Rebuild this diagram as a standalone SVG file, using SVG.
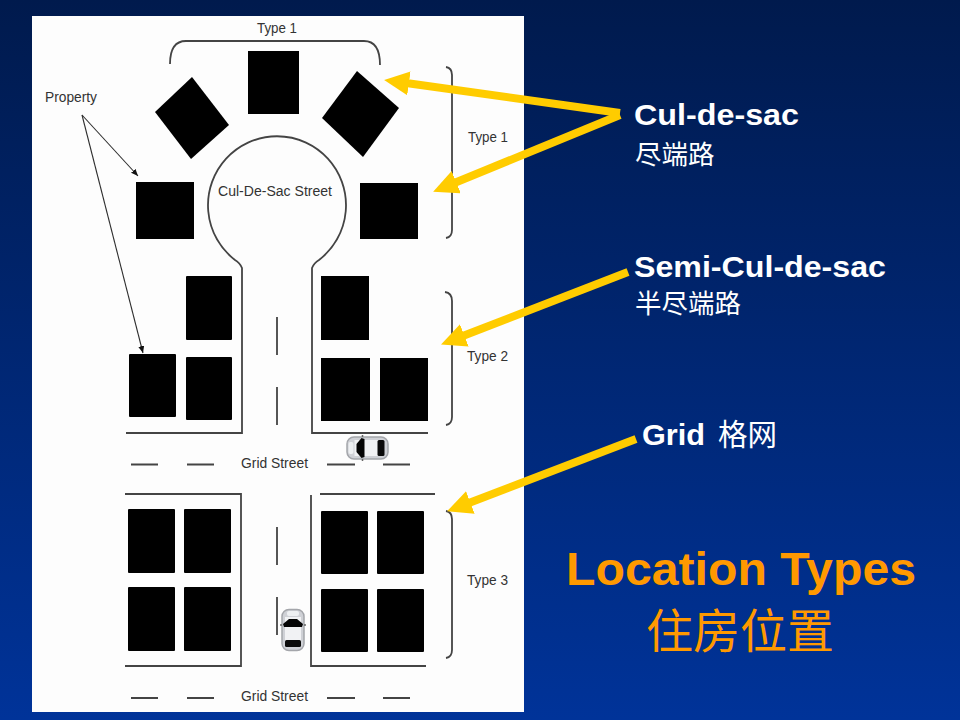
<svg xmlns="http://www.w3.org/2000/svg" width="960" height="720" viewBox="0 0 960 720">
<style>
.lot{fill:#000}
.road{fill:none;stroke:#444;stroke-width:1.8}
.thin{fill:none;stroke:#2e2e2e;stroke-width:1.1}
.lbl{font-family:"Liberation Sans",Arial,sans-serif;font-size:15.500px;fill:#333}
.call{font-family:"Liberation Sans",Arial,sans-serif;font-weight:bold;font-size:30px;fill:#fff}
.cjk{font-family:"Noto Sans CJK SC",sans-serif;fill:#fff}
.yl{fill:none;stroke:#ffcc00;stroke-width:8;marker-end:url(#yh)}
</style>
<defs>
<linearGradient id="bg" x1="0" y1="0" x2="0" y2="1">
<stop offset="0" stop-color="#001a4d"/>
<stop offset="1" stop-color="#003399"/>
</linearGradient>
<marker id="yh" markerUnits="userSpaceOnUse" markerWidth="30" markerHeight="28" refX="10" refY="12" orient="auto">
<path d="M0 0L25 12L0 24z" fill="#ffcc00"/>
</marker>
<marker id="bh" markerUnits="userSpaceOnUse" markerWidth="10" markerHeight="8" refX="7" refY="3" orient="auto">
<path d="M0 0L7 3L0 6z" fill="#111"/>
</marker>
<g id="car">
<rect x="-20.500" y="-11" width="41" height="22" rx="7" fill="#cfd1d6" stroke="#a4a6ab" stroke-width="1.500"/>
<rect x="-19" y="-6" width="5" height="12" rx="2" fill="#eef0f2"/>
<rect x="-13" y="-8" width="24" height="16" fill="#f1f2f4"/>
<path d="M-6 -10L-11 -4V4L-6 10L-3 9V-9z" fill="#050505"/>
<rect x="10" y="-8" width="7" height="16" rx="1.500" fill="#0a0a0a"/>
<path d="M-5 -11V-13M-5 11V13" stroke="#666" stroke-width="1.500"/>
</g>
</defs>
<rect width="960" height="720" fill="url(#bg)"/>
<rect id="panel" x="32" y="16" width="492" height="696" fill="#fdfdfd"/>

<g id="roads">
<path class="road" d="M126 433H242V268Q240 263 235 260A69 69 0 1 1 319 260Q314 263 312 268V433H428"/>
<path class="road" d="M277 317V355M277 387V425M277 527V565M277 597V635"/>
<path class="road" d="M131 464.500H158M187 464.500H214M327 464.500H355M383 464.500H410"/>
<path class="road" d="M125 494H241V666H125M311 495V666H426M320 494H435"/>
<path class="road" d="M131 698H158M187 698H214M327 698H355M383 698H410"/>
</g>

<g id="brackets">
<path class="road" d="M170 64C170 50 175 41 186 41H364C375 41 380 50 380 65"/>
<path class="road" d="M446 67Q452 68 452 75V230Q452 237 446 238"/>
<path class="road" d="M445 292Q452 293 452 301V417Q452 424 446 425"/>
<path class="road" d="M446 511Q452 512 452 519V650Q452 657 446 658"/>
</g>

<g id="lot-top"><rect class="lot" x="248" y="51" width="51" height="63"/></g>
<g id="lot-left-diamond"><polygon class="lot" points="192,77 229,125 191,159 155,112"/></g>
<g id="lot-right-diamond"><polygon class="lot" points="357,71 399,108 363,157 322,118"/></g>
<g id="lot-left"><rect class="lot" x="136" y="182" width="58" height="57"/></g>
<g id="lot-right"><rect class="lot" x="360" y="183" width="58" height="56"/></g>

<g id="lot-t2-a"><rect class="lot" x="186" y="276" width="46" height="64" rx="1"/></g>
<g id="lot-t2-b"><rect class="lot" x="129" y="354" width="47" height="63" rx="1"/></g>
<g id="lot-t2-c"><rect class="lot" x="186" y="357" width="46" height="63" rx="1"/></g>
<g id="lot-t2-d"><rect class="lot" x="321" y="276" width="48" height="64"/></g>
<g id="lot-t2-e"><rect class="lot" x="321" y="358" width="49" height="63"/></g>
<g id="lot-t2-f"><rect class="lot" x="380" y="358" width="48" height="63"/></g>

<g id="lot-t3-a"><rect class="lot" x="128" y="509" width="47" height="64" rx="1"/></g>
<g id="lot-t3-b"><rect class="lot" x="184" y="509" width="47" height="64" rx="1"/></g>
<g id="lot-t3-c"><rect class="lot" x="128" y="587" width="47" height="64" rx="1"/></g>
<g id="lot-t3-d"><rect class="lot" x="184" y="587" width="47" height="64" rx="1"/></g>
<g id="lot-t3-e"><rect class="lot" x="321" y="511" width="47" height="63" rx="1"/></g>
<g id="lot-t3-f"><rect class="lot" x="377" y="511" width="47" height="63" rx="1"/></g>
<g id="lot-t3-g"><rect class="lot" x="321" y="589" width="47" height="63" rx="1"/></g>
<g id="lot-t3-h"><rect class="lot" x="377" y="589" width="47" height="63" rx="1"/></g>

<g id="car-grid"><use href="#car" transform="translate(367.500 448)"/></g>
<g id="car-side"><use href="#car" transform="translate(293 630) rotate(90)"/></g>

<g id="labels">
<text class="lbl" x="257" y="33" textLength="40" lengthAdjust="spacingAndGlyphs">Type 1</text>
<text class="lbl" x="468" y="142" textLength="40" lengthAdjust="spacingAndGlyphs">Type 1</text>
<text class="lbl" x="467" y="361" textLength="41" lengthAdjust="spacingAndGlyphs">Type 2</text>
<text class="lbl" x="467" y="585" textLength="41" lengthAdjust="spacingAndGlyphs">Type 3</text>
<text class="lbl" x="45" y="102" textLength="52" lengthAdjust="spacingAndGlyphs">Property</text>
<text class="lbl" x="218" y="196" textLength="114" lengthAdjust="spacingAndGlyphs">Cul-De-Sac Street</text>
<text class="lbl" x="241" y="468" textLength="67" lengthAdjust="spacingAndGlyphs">Grid Street</text>
<text class="lbl" x="241" y="701" textLength="67" lengthAdjust="spacingAndGlyphs">Grid Street</text>
</g>

<g id="connectors">
<path class="thin" marker-end="url(#bh)" d="M82 115L138 176"/>
<path class="thin" marker-end="url(#bh)" d="M82 115L143 353"/>
<path class="yl" d="M620 113L399 82"/>
<path class="yl" d="M620 115L447 186"/>
<path class="yl" d="M628 272L455 339"/>
<path class="yl" d="M636 439L461 506"/>
</g>

<g id="callouts">
<text class="call" x="634" y="125" textLength="165" lengthAdjust="spacingAndGlyphs">Cul-de-sac</text>
<text class="cjk" x="635" y="164" font-size="26.500">尽端路</text>
<text class="call" x="634" y="277" textLength="252" lengthAdjust="spacingAndGlyphs">Semi-Cul-de-sac</text>
<text class="cjk" x="635" y="313" font-size="26.500">半尽端路</text>
<text class="call" x="642" y="445" textLength="63" lengthAdjust="spacingAndGlyphs">Grid</text>
<text class="cjk" x="718" y="445" font-size="29.500">格网</text>
</g>

<g id="title">
<text x="566" y="585" textLength="350" lengthAdjust="spacingAndGlyphs" style="font-family:'Liberation Sans',Arial,sans-serif;font-weight:bold;font-size:47px;fill:#ff9900">Location Types</text>
<text x="646" y="648" style="font-family:'Noto Sans CJK SC',sans-serif;font-size:47px;fill:#ff9900">住房位置</text>
</g>
</svg>
